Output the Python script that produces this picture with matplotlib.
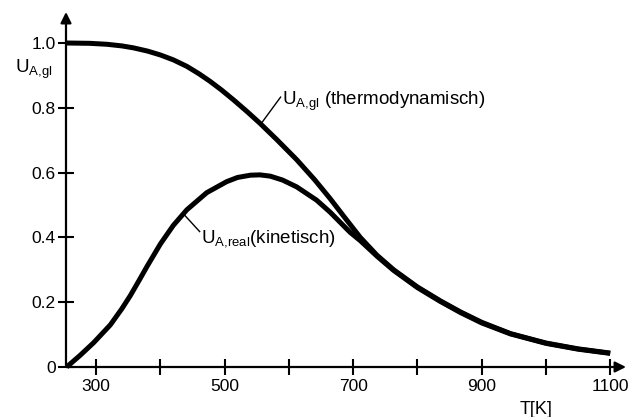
import matplotlib
matplotlib.use("Agg")
import matplotlib.pyplot as plt

# Data
thermo_T = [253, 290, 317, 340, 358, 380, 400, 420, 441, 460, 477, 495, 514, 535, 555, 581, 612, 640, 664, 685, 711, 737, 763, 800, 835, 867, 900, 945, 1000, 1050, 1100]
thermo_U = [1.0, 0.999, 0.996, 0.991, 0.985, 0.975, 0.963, 0.948, 0.928, 0.905, 0.882, 0.855, 0.824, 0.788, 0.752, 0.702, 0.640, 0.578, 0.520, 0.466, 0.400, 0.345, 0.300, 0.247, 0.205, 0.170, 0.138, 0.103, 0.074, 0.056, 0.043]

kin_T = [254, 275, 296, 322, 340, 353, 367, 379, 400, 420, 441, 472, 503, 520, 540, 555, 571, 590, 612, 643, 664, 680, 695, 711, 737, 763, 800, 835, 867, 900, 945, 1000, 1050, 1100]
kin_U = [0.0, 0.036, 0.075, 0.130, 0.180, 0.220, 0.268, 0.310, 0.380, 0.437, 0.485, 0.538, 0.572, 0.585, 0.592, 0.593, 0.589, 0.577, 0.556, 0.515, 0.478, 0.446, 0.416, 0.390, 0.342, 0.298, 0.245, 0.203, 0.168, 0.136, 0.102, 0.073, 0.055, 0.042]

major_ticks = [300, 500, 700, 900, 1100]
minor_ticks = [400, 600, 800, 1000]
y_ticks = [0, 0.2, 0.4, 0.6, 0.8, 1.0]
y_ticklabels = ["0", "0.2", "0.4", "0.6", "0.8", "1.0"]

plt.rcParams['font.family'] = ['Liberation Sans', 'DejaVu Sans']
plt.rcParams['mathtext.fontset'] = 'custom'
plt.rcParams['mathtext.rm'] = 'Liberation Sans'
plt.rcParams['mathtext.default'] = 'rm'

fig = plt.figure(figsize=(6.29, 4.17), dpi=100)
W, H = 629, 417
x0, x1 = 66, 626
y0, y1 = 367, 12
ax = fig.add_axes([x0 / W, 1 - y0 / H, (x1 - x0) / W, (y0 - y1) / H])
px_per_T = 0.6425
px_per_U = 324
ax.set_xlim(253, 253 + (x1 - x0) / px_per_T)
ax.set_ylim(0, (y0 - y1) / px_per_U)

for s in ax.spines.values():
    s.set_visible(False)

ax.annotate('', xy=(1.0, 0), xytext=(0, 0), xycoords='axes fraction',
            arrowprops=dict(arrowstyle='-|>', lw=1.6, color='black', mutation_scale=16, shrinkA=0, shrinkB=0))
ax.annotate('', xy=(0, 1.0), xytext=(0, 0), xycoords='axes fraction',
            arrowprops=dict(arrowstyle='-|>', lw=1.6, color='black', mutation_scale=16, shrinkA=0, shrinkB=0))

ax.plot(thermo_T, thermo_U, color='black', lw=3.6, solid_capstyle='butt', solid_joinstyle='round', clip_on=False)
ax.plot(kin_T, kin_U, color='black', lw=3.6, solid_capstyle='butt', solid_joinstyle='round', clip_on=False)

ax.set_xticks(major_ticks + minor_ticks)
ax.set_xticklabels([str(t) for t in major_ticks] + [''] * len(minor_ticks))
ax.set_yticks(y_ticks)
ax.set_yticklabels(y_ticklabels)
ax.tick_params(axis='both', direction='inout', length=11, width=1.5, labelsize=12.5, color='black')
ax.tick_params(axis='x', pad=3)
ax.tick_params(axis='y', pad=2)

# Annotations
ax.plot([557, 587], [0.752, 0.833], color='black', lw=1.0)
ax.text(589, 0.810, r"U$_{\mathrm{A{,}gl}}$ (thermodynamisch)", fontsize=13.5, va='baseline', ha='left')
ax.plot([437, 461], [0.470, 0.418], color='black', lw=1.0)
ax.text(463, 0.383, r"U$_{\mathrm{A{,}real}}$(kinetisch)", fontsize=13.5, va='baseline', ha='left')

ax.text(174, 0.906, r"U$_{\mathrm{A{,}gl}}$", fontsize=13.5, va='baseline', ha='left', clip_on=False)
ax.text(985, -0.145, "T[K]", fontsize=13, va='baseline', ha='center', clip_on=False)

fig.savefig("out.png", dpi=100)
